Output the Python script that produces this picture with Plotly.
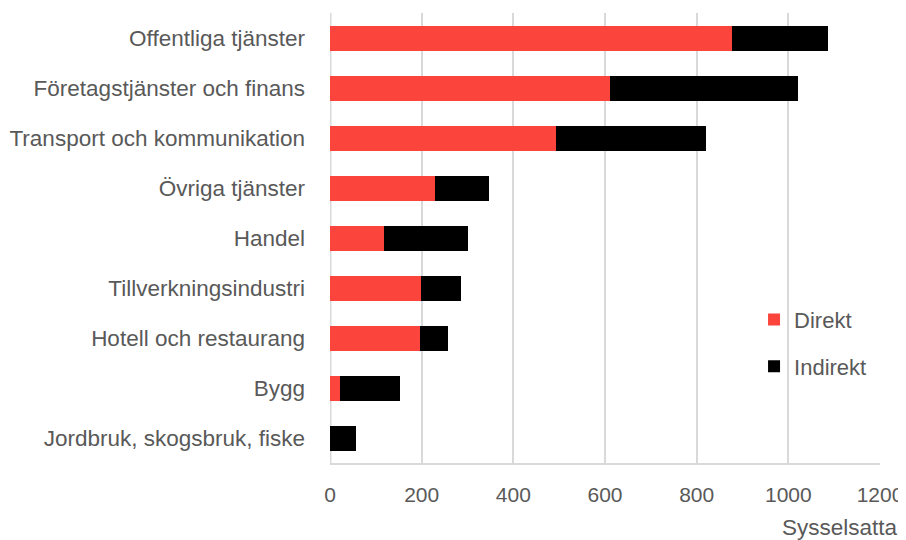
import plotly.graph_objects as go

categories = [
    "Offentliga tjänster",
    "Företagstjänster och finans",
    "Transport och kommunikation",
    "Övriga tjänster",
    "Handel",
    "Tillverkningsindustri",
    "Hotell och restaurang",
    "Bygg",
    "Jordbruk, skogsbruk, fiske",
]
direkt = [876, 611, 493, 229, 117, 199, 197, 21, 0]
indirekt = [211, 409, 327, 117, 184, 86, 61, 131, 57]
x_ticks = [0, 200, 400, 600, 800, 1000, 1200]

FONT = "Liberation Sans, Arial, sans-serif"
TXT = "#595959"
GRID = "#d9d9d9"

fig = go.Figure()
fig.add_trace(go.Bar(y=categories, x=direkt, orientation="h", name="Direkt",
                     marker=dict(color="#FA443C", line=dict(width=0)),
                     legendgroup="a"))
fig.add_trace(go.Bar(y=categories, x=indirekt, orientation="h", name="Indirekt",
                     marker=dict(color="#000000", line=dict(width=0)),
                     legendgroup="b"))

# page body has an 8px margin, so the figure is sized/offset to compensate
fig.update_layout(
    width=898, height=532,
    margin=dict(l=322, r=26, t=5, b=77, autoexpand=False),
    barmode="stack", bargap=0.5,
    plot_bgcolor="white", paper_bgcolor="white",
    font=dict(family=FONT, size=22, color=TXT),
    legend=dict(x=0.771, y=0.365, xanchor="left", yanchor="top",
                font=dict(size=22, color=TXT), tracegroupgap=15,
                traceorder="grouped", bgcolor="rgba(0,0,0,0)"),
    xaxis=dict(range=[0, 1200], tickvals=x_ticks, showgrid=True,
               gridcolor=GRID, gridwidth=1.5, zeroline=False,
               showline=True, linecolor=GRID, linewidth=2,
               ticks="", ticklabelstandoff=12,
               tickfont=dict(size=21, color=TXT), fixedrange=True),
    yaxis=dict(categoryorder="array", categoryarray=categories,
               autorange="reversed", showgrid=False, zeroline=False,
               showline=False, ticks="", ticklabelstandoff=24,
               tickfont=dict(size=22.5, color=TXT)),
    shapes=[dict(type="line", xref="x", yref="paper", x0=0, x1=0, y0=0, y1=1,
                 line=dict(color=GRID, width=3), layer="below")],
    annotations=[dict(text="Sysselsatta", xref="paper", yref="paper",
                      x=1, y=0, xanchor="right", yanchor="middle",
                      xshift=20, yshift=-64, showarrow=False,
                      font=dict(size=22.5, color=TXT))],
)

fig.write_html("out.html")
